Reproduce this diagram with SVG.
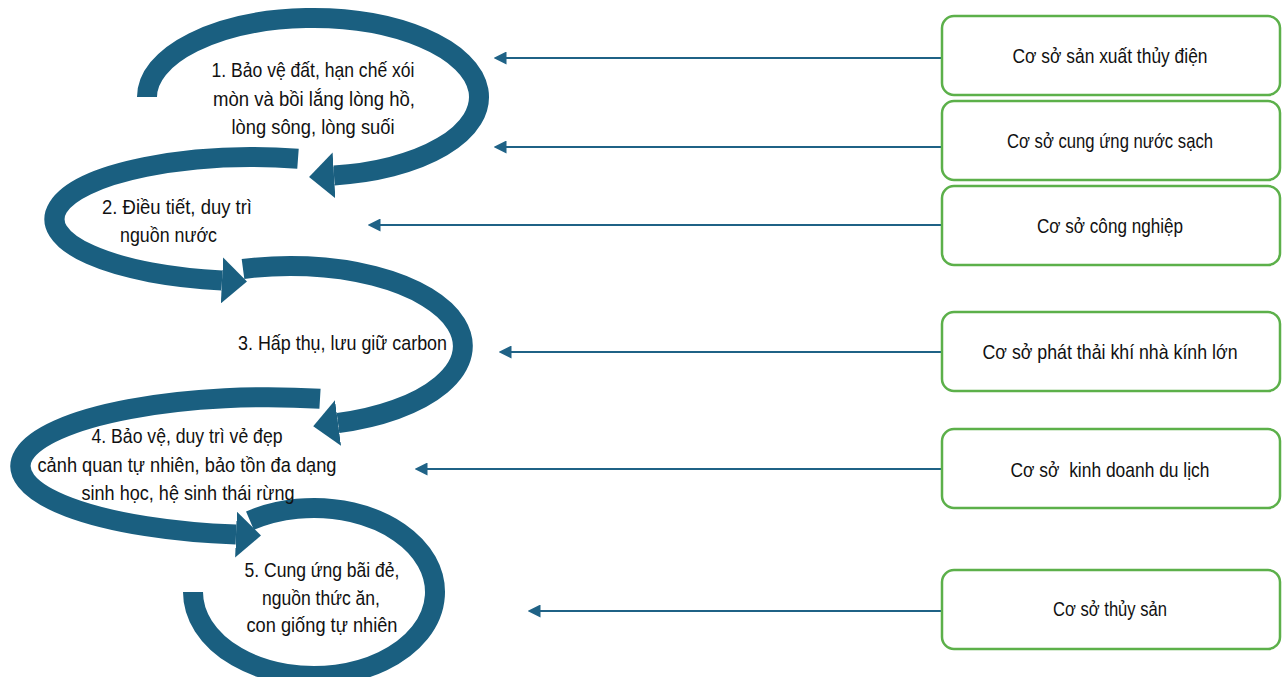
<svg xmlns="http://www.w3.org/2000/svg" width="1285" height="677" viewBox="0 0 1285 677">
  <style>
    .arc { fill: none; stroke: #1a5f80; stroke-width: 20; stroke-linecap: butt; }
    .lbl { font-family: "Liberation Sans", Arial, sans-serif; font-size: 21px; fill: #111111; }
    .mid { text-anchor: middle; }
    .box { fill: #ffffff; stroke: #5cb04a; stroke-width: 2.5; }
    .conn { fill: none; stroke: #1f6286; stroke-width: 2; }
  </style>
  <defs>
    <marker id="bigArrow" markerUnits="userSpaceOnUse" viewBox="0 0 26 46" markerWidth="26" markerHeight="46" refX="0" refY="23" orient="auto">
      <path d="M0,0 L25,23 L0,46 z" fill="#1a5f80"/>
    </marker>
    <marker id="smallArrow" markerUnits="userSpaceOnUse" viewBox="0 0 13 13" markerWidth="13" markerHeight="13" refX="0.5" refY="6.5" orient="auto">
      <path d="M0,0 L13,6.5 L0,13 z" fill="#1f6286"/>
    </marker>
  </defs>
  <rect width="1285" height="677" fill="#ffffff"/>

  <!-- circular steps -->
  <g id="step5">
    <path class="arc" d="M250,520.7 A121,84 0 1 1 193,592"/>
    <text class="lbl mid" x="322" y="577" textLength="155" lengthAdjust="spacingAndGlyphs">5. Cung ứng bãi đẻ,</text>
    <text class="lbl mid" x="321" y="605" textLength="118" lengthAdjust="spacingAndGlyphs">nguồn thức ăn,</text>
    <text class="lbl mid" x="322" y="632" textLength="151" lengthAdjust="spacingAndGlyphs">con giống tự nhiên</text>
  </g>
  <g id="step4">
    <path class="arc" d="M320,398.7 A248,69 0 1 0 236,534.6" marker-end="url(#bigArrow)"/>
    <text class="lbl mid" x="187" y="443" textLength="191" lengthAdjust="spacingAndGlyphs">4. Bảo vệ, duy trì vẻ đẹp</text>
    <text class="lbl mid" x="187" y="472" textLength="299" lengthAdjust="spacingAndGlyphs">cảnh quan tự nhiên, bảo tồn đa dạng</text>
    <text class="lbl mid" x="188" y="500" textLength="213" lengthAdjust="spacingAndGlyphs">sinh học, hệ sinh thái rừng</text>
  </g>
  <g id="step3">
    <path class="arc" d="M243,269 A172,80 0 1 1 338,423" marker-end="url(#bigArrow)"/>
    <text class="lbl" x="238" y="350" textLength="209" lengthAdjust="spacingAndGlyphs">3. Hấp thụ, lưu giữ carbon</text>
  </g>
  <g id="step2">
    <path class="arc" d="M298,158.8 A198,62 0 1 0 222,280.4" marker-end="url(#bigArrow)"/>
    <text class="lbl" x="102" y="214" textLength="150" lengthAdjust="spacingAndGlyphs">2. Điều tiết, duy trì</text>
    <text class="lbl" x="120" y="242" textLength="97" lengthAdjust="spacingAndGlyphs">nguồn nước</text>
  </g>
  <g id="step1">
    <path class="arc" d="M147,97 A166,79 0 1 1 334,175.4" marker-end="url(#bigArrow)"/>
    <text class="lbl mid" x="313" y="77" textLength="203" lengthAdjust="spacingAndGlyphs">1. Bảo vệ đất, hạn chế xói</text>
    <text class="lbl mid" x="314" y="106" textLength="202" lengthAdjust="spacingAndGlyphs">mòn và bồi lắng lòng hồ,</text>
    <text class="lbl mid" x="313" y="134" textLength="163" lengthAdjust="spacingAndGlyphs">lòng sông, lòng suối</text>
  </g>

  <!-- connectors -->
  <g id="connectors">
    <path class="conn" d="M942,58 L506,58" marker-end="url(#smallArrow)"/>
    <path class="conn" d="M942,147 L506,147" marker-end="url(#smallArrow)"/>
    <path class="conn" d="M942,225 L380,225" marker-end="url(#smallArrow)"/>
    <path class="conn" d="M942,352 L511,352" marker-end="url(#smallArrow)"/>
    <path class="conn" d="M942,469 L427,469" marker-end="url(#smallArrow)"/>
    <path class="conn" d="M942,611 L540,611" marker-end="url(#smallArrow)"/>
  </g>

  <!-- facility boxes -->
  <g id="box1">
    <rect class="box" x="942" y="16" width="338" height="79" rx="12"/>
    <text class="lbl mid" x="1110" y="63" textLength="195" lengthAdjust="spacingAndGlyphs">Cơ sở sản xuất thủy điện</text>
  </g>
  <g id="box2">
    <rect class="box" x="942" y="101" width="338" height="79" rx="12"/>
    <text class="lbl mid" x="1110" y="148" textLength="206" lengthAdjust="spacingAndGlyphs">Cơ sở cung ứng nước sạch</text>
  </g>
  <g id="box3">
    <rect class="box" x="942" y="186" width="338" height="79" rx="12"/>
    <text class="lbl mid" x="1110" y="233" textLength="146" lengthAdjust="spacingAndGlyphs">Cơ sở công nghiệp</text>
  </g>
  <g id="box4">
    <rect class="box" x="942" y="312" width="338" height="79" rx="12"/>
    <text class="lbl mid" x="1110" y="359" textLength="255" lengthAdjust="spacingAndGlyphs">Cơ sở phát thải khí nhà kính lớn</text>
  </g>
  <g id="box5">
    <rect class="box" x="942" y="429" width="338" height="79" rx="12"/>
    <text class="lbl mid" x="1110" y="477" textLength="199" lengthAdjust="spacingAndGlyphs" xml:space="preserve">Cơ sở  kinh doanh du lịch</text>
  </g>
  <g id="box6">
    <rect class="box" x="942" y="570" width="338" height="79" rx="12"/>
    <text class="lbl mid" x="1110" y="616" textLength="114" lengthAdjust="spacingAndGlyphs">Cơ sở thủy sản</text>
  </g>
</svg>
